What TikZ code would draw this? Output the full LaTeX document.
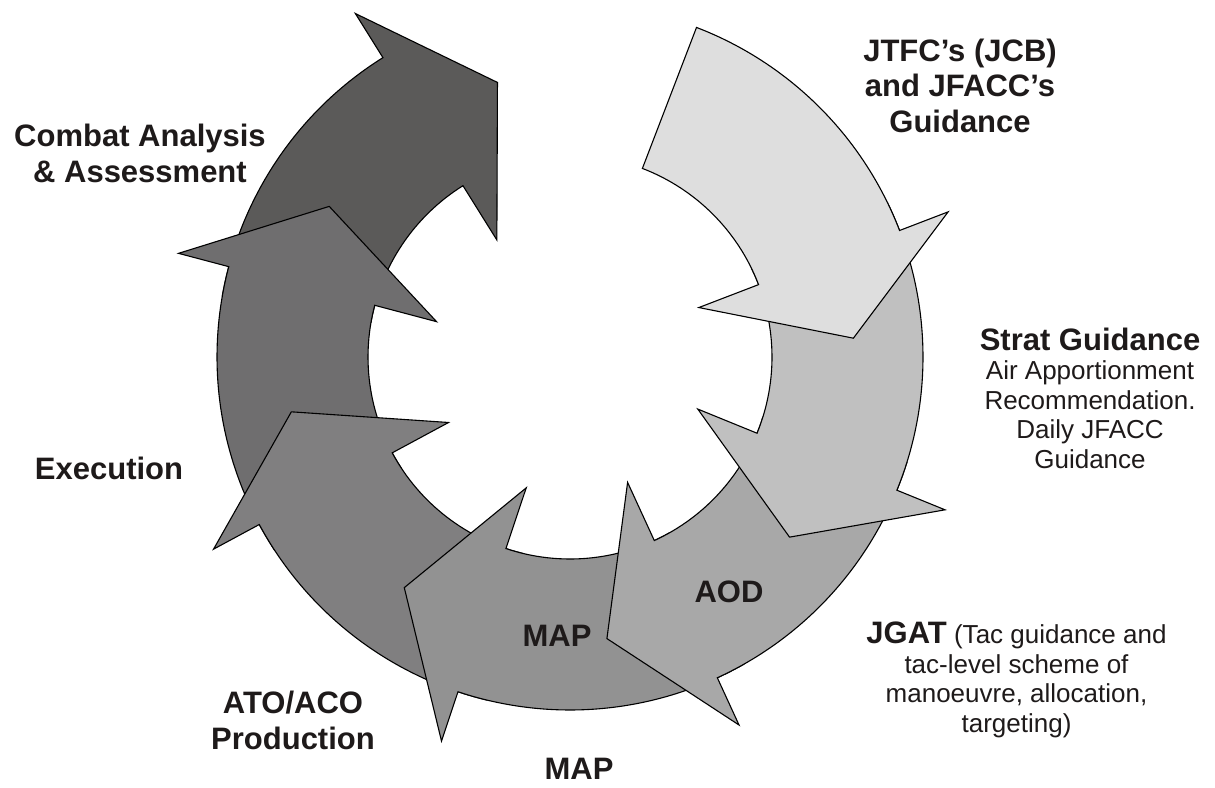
\documentclass[tikz,border=0pt]{standalone}
\usepackage{fontspec}
\setmainfont{Liberation Sans}
\definecolor{txt}{RGB}{30,26,26}
\definecolor{cA}{RGB}{222,222,222}
\definecolor{cB}{RGB}{192,192,192}
\definecolor{cC}{RGB}{168,168,168}
\definecolor{cD}{RGB}{146,146,146}
\definecolor{cE}{RGB}{128,127,128}
\definecolor{cF}{RGB}{111,110,111}
\definecolor{cG}{RGB}{91,90,89}
\tikzset{
  ringarrow/.style={draw=black, line width=1.1pt, line join=miter, miter limit=20},
  boldlbl/.style={font=\fontsize{31}{35.5}\selectfont\bfseries, text=txt, align=center, inner sep=0pt, anchor=base},
  plainlbl/.style={font=\fontsize{26}{29.5}\selectfont, text=txt, align=center, inner sep=0pt, anchor=base},
}
% #1 fill colour, #2 angle of the head base
\newcommand\cyclearrow[2]{%
  \pgfmathsetmacro\hb{#2}%
  \pgfmathsetmacro\tl{#2+48}%
  \pgfmathsetmacro\tp{#2-17.2}%
  \path[ringarrow, fill=#1] (\tl:353pt)
    arc[start angle=\tl, end angle=\hb, radius=353pt]
    -- (\hb:405pt) -- (\tp:284pt) -- (\hb:138pt) -- (\hb:202pt)
    arc[start angle=\hb, end angle=\tl, radius=202pt] -- cycle;
}
\begin{document}
\begin{tikzpicture}[x=1pt,y=1pt]
\useasboundingbox (0,0) rectangle (1215,-787);
\fill[white] (0,0) rectangle (1215,-787);
\begin{scope}[shift={(570,-357)}]
  \cyclearrow{cG}{-238}
  \cyclearrow{cF}{-194.83}
  \cyclearrow{cE}{-151.67}
  \cyclearrow{cD}{-108.5}
  \cyclearrow{cC}{-65.33}
  \cyclearrow{cB}{-22.17}
  \cyclearrow{cA}{21}
\end{scope}
% anchor=base of a multi-line node is the baseline of its last line
\node[boldlbl] (jtfc) at (960,-132) {JTFC’s (JCB)\\and JFACC’s\\Guidance};
\node[boldlbl] (combat) at (140,-182) {Combat Analysis\\\& Assessment};
\node[boldlbl] (exec) at (109,-479) {Execution};
\node[boldlbl] (ato) at (293,-749) {ATO/ACO\\Production};
\node[boldlbl] (mapout) at (579,-779) {MAP};
\node[boldlbl] (mapin) at (557,-646) {MAP};
\node[boldlbl] (aod) at (729,-602) {AOD};
\node[plainlbl] (strat) at (1090,-468) {{\fontsize{31}{29.5}\selectfont\bfseries Strat Guidance}\\Air Apportionment\\Recommendation.\\Daily JFACC\\Guidance};
\node[plainlbl] (jgat) at (1016.5,-732) {{\fontsize{31}{29.5}\selectfont\bfseries JGAT} (Tac guidance and\\tac-level scheme of\\manoeuvre, allocation,\\targeting)};
\end{tikzpicture}
\end{document}
